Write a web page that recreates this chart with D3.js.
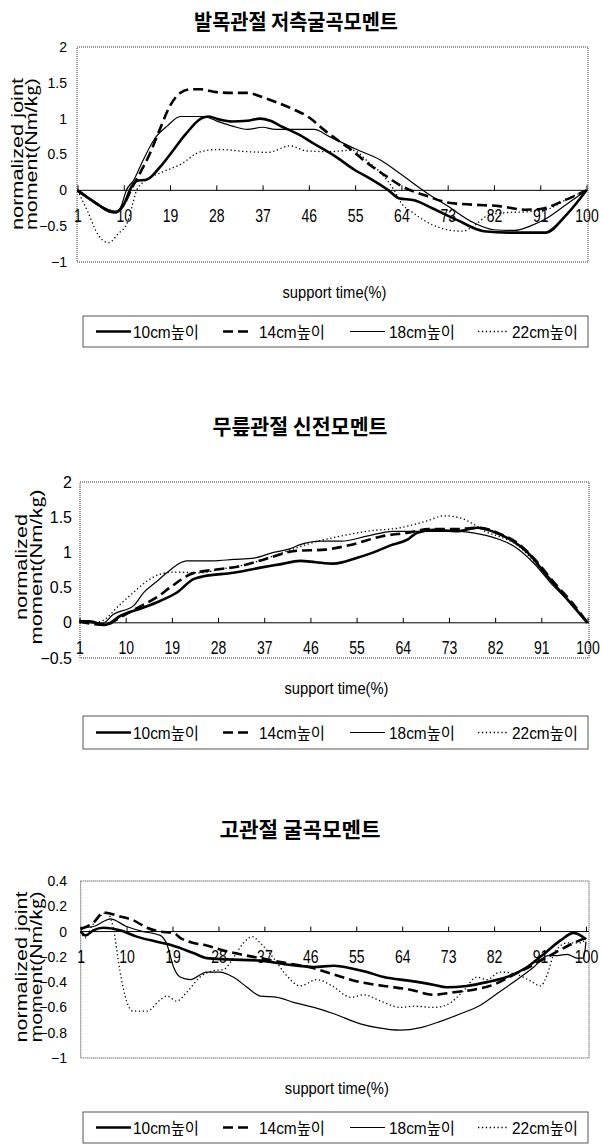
<!DOCTYPE html>
<html><head><meta charset="utf-8">
<script src="https://cdn.jsdelivr.net/npm/d3@7"></script>
<style>body{margin:0;background:#fff}</style>
</head><body><svg id="c" width="602" height="1144"></svg>
<script>
// ---------- DATA ----------
const titles = ["발목관절 저측굴곡모멘트", "무릎관절 신전모멘트", "고관절 굴곡모멘트"];
const seriesNames = ["10cm높이", "14cm높이", "18cm높이", "22cm높이"];
const xTickValues = [1, 10, 19, 28, 37, 46, 55, 64, 73, 82, 91, 100];
const ankleYTicks = [-1, -0.5, 0, 0.5, 1, 1.5, 2];
const kneeYTicks = [-0.5, 0, 0.5, 1, 1.5, 2];
const hipYTicks = [-1, -0.8, -0.6, -0.4, -0.2, 0, 0.2, 0.4];
const yTitleJoint = ["normalized joint", "moment(Nm/㎏)"];
const yTitleKnee = ["normalized", "moment(Nm/㎏)"];
const xTitle = "support time(%)";

// ankle plantar-flexion moment: [support time %, value]
const ankle10 = [[1,0],[4,-0.15],[7,-0.28],[8.5,-0.3],[10,-0.2],[11.5,0.05],[12.5,0.13],[14.5,0.15],[17,0.32],[19,0.5],[22,0.78],[25,1.0],[26.5,1.03],[28.5,0.99],[31,0.96],[34,0.97],[36.5,1.0],[38.5,0.97],[41,0.88],[44,0.78],[47,0.65],[51,0.48],[55,0.28],[58,0.16],[61.5,0.0],[63.5,-0.11],[66.5,-0.14],[70,-0.25],[75,-0.42],[80,-0.57],[85,-0.59],[92,-0.59],[96,-0.35],[100,0]];
const ankle14 = [[1,0],[4,-0.15],[7,-0.28],[8.5,-0.3],[10,-0.2],[11.5,0.02],[13,0.22],[15,0.5],[17,0.85],[19,1.18],[21,1.36],[23,1.41],[25,1.41],[28,1.37],[31,1.36],[34,1.36],[37,1.3],[40,1.22],[43,1.13],[46,1.02],[49,0.84],[52,0.68],[54,0.58],[57,0.4],[61,0.2],[64,0.06],[69,-0.08],[73,-0.17],[78,-0.2],[83,-0.22],[88,-0.27],[91,-0.26],[96,-0.13],[100,0]];
const ankle18 = [[1,0],[4,-0.15],[7,-0.3],[8.5,-0.32],[9.5,-0.22],[10.5,0],[12,0.15],[13.5,0.38],[16,0.72],[18.5,0.9],[21,1.03],[25.5,1.03],[28,0.97],[31,0.9],[34,0.85],[37,0.88],[39.5,0.85],[47,0.85],[50,0.75],[55,0.58],[60,0.42],[64,0.22],[69,-0.04],[73,-0.22],[78,-0.45],[82,-0.55],[86,-0.56],[89,-0.5],[92,-0.4],[96,-0.2],[100,0]];
const ankle22 = [[1,0],[3,-0.3],[5,-0.62],[7,-0.73],[9,-0.6],[10.7,-0.45],[11.7,-0.2],[12.5,0],[14.5,0.15],[17,0.24],[21,0.36],[25,0.54],[28.5,0.57],[34,0.54],[38,0.53],[42.4,0.62],[45.5,0.55],[50,0.54],[54.5,0.56],[57.5,0.4],[60,0.24],[62.6,0],[64,-0.18],[66,-0.3],[70,-0.48],[73,-0.55],[76,-0.57],[78,-0.5],[80.6,-0.36],[83,-0.32],[90,-0.29],[93,-0.25],[96,-0.13],[100,0]];

// knee extension moment
const knee10 = [[1,0.02],[3,0.02],[6,-0.03],[9,0.1],[12.8,0.2],[16.7,0.31],[20,0.43],[23.2,0.62],[25.2,0.66],[31,0.71],[36,0.78],[40,0.83],[44,0.88],[47,0.86],[50.5,0.84],[55,0.92],[58.3,1.0],[61.6,1.1],[64.9,1.18],[66.8,1.28],[70,1.32],[74.6,1.3],[78.5,1.35],[81.8,1.29],[85,1.18],[88.3,1.0],[92.2,0.66],[96.1,0.33],[100,0]];
const knee14 = [[1,0.02],[4,-0.02],[6,-0.03],[9,0.08],[12,0.2],[16,0.36],[19,0.52],[23,0.7],[28,0.76],[32,0.8],[37,0.9],[43,1.02],[49,1.04],[54,1.11],[60,1.23],[65,1.28],[69,1.33],[74,1.33],[79,1.35],[83,1.26],[86,1.15],[89.5,0.92],[93.5,0.57],[97.3,0.26],[100,0]];
const knee18 = [[1,0.01],[4,0],[5.5,-0.01],[7.6,0.12],[11.5,0.24],[13.5,0.43],[16.1,0.59],[18,0.71],[20.6,0.85],[21.9,0.88],[27,0.88],[31,0.9],[35,0.92],[38.8,1.0],[42,1.05],[44,1.11],[48,1.16],[52,1.16],[57,1.23],[62,1.3],[66,1.3],[75,1.3],[79,1.26],[83,1.18],[85.6,1.09],[89.5,0.85],[93.4,0.52],[97.3,0.24],[100,0]];
const knee22 = [[1,0],[4,0],[5.5,0.03],[8.9,0.26],[11.5,0.43],[14.1,0.59],[16.7,0.69],[19.3,0.72],[24.5,0.71],[28.4,0.76],[33.6,0.83],[38.8,0.95],[42.7,1.05],[47,1.15],[51.8,1.23],[57,1.3],[63.5,1.35],[68.8,1.45],[72,1.52],[75.2,1.49],[77.8,1.4],[80,1.3],[83,1.22],[86,1.12],[89.5,0.88],[93.5,0.54],[97.3,0.25],[100,0]];

// hip flexion moment
const hip10 = [[1,0],[2,-0.03],[3.5,0.01],[5.5,0.03],[8.7,0.01],[12,-0.04],[15.9,-0.08],[19,-0.11],[23.1,-0.17],[25.7,-0.21],[29.7,-0.22],[36.2,-0.23],[41.4,-0.26],[46.7,-0.28],[50.6,-0.27],[53.9,-0.29],[57.1,-0.32],[60.4,-0.36],[65.6,-0.39],[70.1,-0.42],[72.7,-0.44],[76.6,-0.43],[80.6,-0.4],[84.5,-0.36],[88.5,-0.28],[91.7,-0.18],[95,-0.07],[97.6,-0.01],[100,-0.06]];
const hip14 = [[1,0.02],[3.5,0.07],[5.5,0.15],[8.7,0.12],[11.3,0.09],[14,0.03],[16.6,0.0],[19.2,-0.01],[20.5,-0.05],[23.1,-0.09],[25.7,-0.11],[29,-0.15],[32.3,-0.18],[36.2,-0.21],[41.4,-0.25],[46.7,-0.29],[50.6,-0.34],[55.8,-0.4],[60.4,-0.43],[65.6,-0.46],[70.1,-0.5],[74.1,-0.48],[78,-0.46],[81.9,-0.42],[85.9,-0.34],[89.8,-0.26],[93.8,-0.17],[97.6,-0.09],[100,-0.05]];
const hip18 = [[1,0.03],[3.5,0.04],[5.5,0.08],[6.8,0.1],[10,0.04],[13.3,0.0],[16.6,-0.03],[17.9,-0.1],[19.2,-0.28],[20.5,-0.36],[22.5,-0.38],[25.7,-0.32],[28.3,-0.32],[30.9,-0.36],[33.6,-0.44],[36.2,-0.51],[39.5,-0.52],[42.7,-0.56],[46.7,-0.6],[50.6,-0.65],[55.8,-0.73],[59.1,-0.76],[63.6,-0.78],[67.6,-0.76],[71.5,-0.71],[75.4,-0.65],[79.4,-0.58],[83.3,-0.47],[87.2,-0.36],[89.8,-0.28],[92.5,-0.19],[94.4,-0.19],[96.3,-0.18],[98.3,-0.21],[99.5,-0.21],[100,-0.08]];
const hip22 = [[1,0],[1.9,-0.05],[3.3,0.05],[4.8,0.12],[6.1,0.15],[7.4,0.03],[8.7,-0.31],[10,-0.55],[11.3,-0.63],[14,-0.63],[16.6,-0.54],[17.9,-0.51],[19.8,-0.55],[21.8,-0.48],[24.4,-0.36],[27,-0.31],[29,-0.3],[30.9,-0.21],[32.9,-0.09],[34.6,-0.04],[36.2,-0.09],[38.8,-0.21],[41.4,-0.35],[44,-0.43],[47.3,-0.38],[50.3,-0.43],[53.9,-0.52],[56.5,-0.5],[59.8,-0.55],[63.6,-0.6],[66.3,-0.59],[70.1,-0.6],[72.7,-0.58],[76,-0.47],[78.6,-0.36],[80.6,-0.38],[83.2,-0.32],[86.5,-0.34],[89.1,-0.39],[91.1,-0.43],[92.4,-0.34],[93.8,-0.17],[96.3,-0.09],[99,-0.09],[100,-0.05]];

// ---------- LAYOUT ----------
const LATIN = "'Liberation Sans', Arial, 'Noto Sans CJK KR', sans-serif";
const KR = "'Noto Sans CJK KR', 'Noto Sans CJK SC', sans-serif";
const styles = [
  {w: 2.6, dash: null},
  {w: 2.6, dash: "10,5"},
  {w: 1.2, dash: null},
  {w: 1.3, dash: "1.3,2.6"}
];
const charts = [
  {title: titles[0], series: [ankle10, ankle14, ankle18, ankle22], yTicks: ankleYTicks, yDom: [-1, 2], yTitle: yTitleJoint,
   box: [77, 47, 588, 262], xr: [77.5, 586.5], yLab: 67, yFs: 14, ytX: [23, 37], ytLen: [152, 152], ytCy: 154,
   tY: 28.5, tW: 204, tCx: 296, legY: 316, legH: 31},
  {title: titles[1], series: [knee10, knee14, knee18, knee22], yTicks: kneeYTicks, yDom: [-0.5, 2], yTitle: yTitleKnee,
   box: [80, 482, 589, 658], xr: [79.5, 587.5], yLab: 72, yFs: 16, ytX: [27, 42], ytLen: [106, 155], ytCy: 567,
   tY: 433.5, tW: 175, tCx: 300, legY: 716, legH: 33},
  {title: titles[2], series: [hip10, hip14, hip18, hip22], yTicks: hipYTicks, yDom: [-1, 0.4], yTitle: yTitleJoint,
   box: [80.7, 881, 589, 1058], xr: [80.6, 586], yLab: 67, yFs: 14, ytX: [27, 42], ytLen: [151, 151], ytCy: 967,
   tY: 836.5, tW: 161, tCx: 300, legY: 1112, legH: 31}
];

const svg = d3.select("#c");
const fmt = d => (d < 0 ? "\u2212" : "") + Math.abs(d);

charts.forEach(c => {
  const [bx0, by0, bx1, by1] = c.box;
  const x = d3.scaleLinear().domain([1, 100]).range(c.xr);
  const y = d3.scaleLinear().domain(c.yDom).range([by1, by0]);
  const g = svg.append("g");

  // title
  g.append("text").attr("x", c.tCx).attr("y", c.tY).attr("text-anchor", "middle")
    .attr("font-family", KR).attr("font-weight", 700).attr("font-size", 21)
    .attr("textLength", c.tW).attr("lengthAdjust", "spacingAndGlyphs").text(c.title);

  // plot border
  g.append("rect").attr("x", bx0).attr("y", by0).attr("width", bx1 - bx0).attr("height", by1 - by0)
    .attr("fill", "none").attr("stroke", "#333").attr("stroke-width", 1).attr("stroke-dasharray", "1,1");

  // y axis labels
  const ya = g.append("g").attr("transform", `translate(${c.yLab},0)`)
    .call(d3.axisLeft(y).tickValues(c.yTicks).tickSize(0).tickPadding(0).tickFormat(fmt));
  ya.select(".domain").remove();
  ya.selectAll("text").attr("font-family", LATIN).attr("font-size", c.yFs).attr("fill", "#000");

  // x axis at zero
  const y0 = y(0);
  g.append("line").attr("x1", bx0).attr("x2", bx1).attr("y1", y0).attr("y2", y0)
    .attr("stroke", "#000").attr("stroke-width", 1);
  const xa = g.append("g").attr("transform", `translate(0,${y0})`)
    .call(d3.axisBottom(x).tickValues(xTickValues).tickSize(-5).tickPadding(18.5).tickFormat(d3.format("d")));
  xa.select(".domain").remove();
  xa.selectAll("line").attr("stroke", "#000");
  xa.selectAll("text").attr("font-family", LATIN).attr("font-size", 18).attr("fill", "#000")
    .attr("transform", "scale(0.78,1)");

  // y title
  c.yTitle.forEach((t, i) => {
    g.append("text").attr("transform", `translate(${c.ytX[i]},${c.ytCy}) rotate(-90)`)
      .attr("text-anchor", "middle").attr("font-family", LATIN).attr("font-size", 16)
      .attr("textLength", c.ytLen[i]).attr("lengthAdjust", "spacingAndGlyphs").text(t);
  });

  // x title
  g.append("text").attr("x", (bx0 + bx1) / 2 + 2).attr("y", by1 + 36).attr("text-anchor", "middle")
    .attr("font-family", LATIN).attr("font-size", 16)
    .attr("textLength", 104).attr("lengthAdjust", "spacingAndGlyphs").text(xTitle);

  // series
  const line = d3.line().x(d => x(d[0])).y(d => y(d[1])).curve(d3.curveMonotoneX);
  c.series.forEach((s, i) => {
    g.append("path").datum(s).attr("d", line).attr("fill", "none").attr("stroke", "#000")
      .attr("stroke-width", styles[i].w).attr("stroke-dasharray", styles[i].dash)
      .attr("stroke-linejoin", "round");
  });

  // legend
  const lg = g.append("g");
  lg.append("rect").attr("x", 83).attr("y", c.legY).attr("width", 505).attr("height", c.legH)
    .attr("fill", "#fff").attr("stroke", "#555").attr("stroke-width", 1);
  const ly = c.legY + c.legH / 2;
  const lx = [[96, 131, 133], [223, 253, 259], [350, 385, 389], [478, 508, 512]];
  seriesNames.forEach((n, i) => {
    lg.append("line").attr("x1", lx[i][0]).attr("x2", lx[i][1]).attr("y1", ly).attr("y2", ly)
      .attr("stroke", "#000").attr("stroke-width", styles[i].w).attr("stroke-dasharray", styles[i].dash);
    lg.append("text").attr("x", lx[i][2]).attr("y", ly + 6).attr("font-family", LATIN).attr("font-size", 16)
      .attr("textLength", 66).attr("lengthAdjust", "spacingAndGlyphs").text(n);
  });
});
</script></body></html>
